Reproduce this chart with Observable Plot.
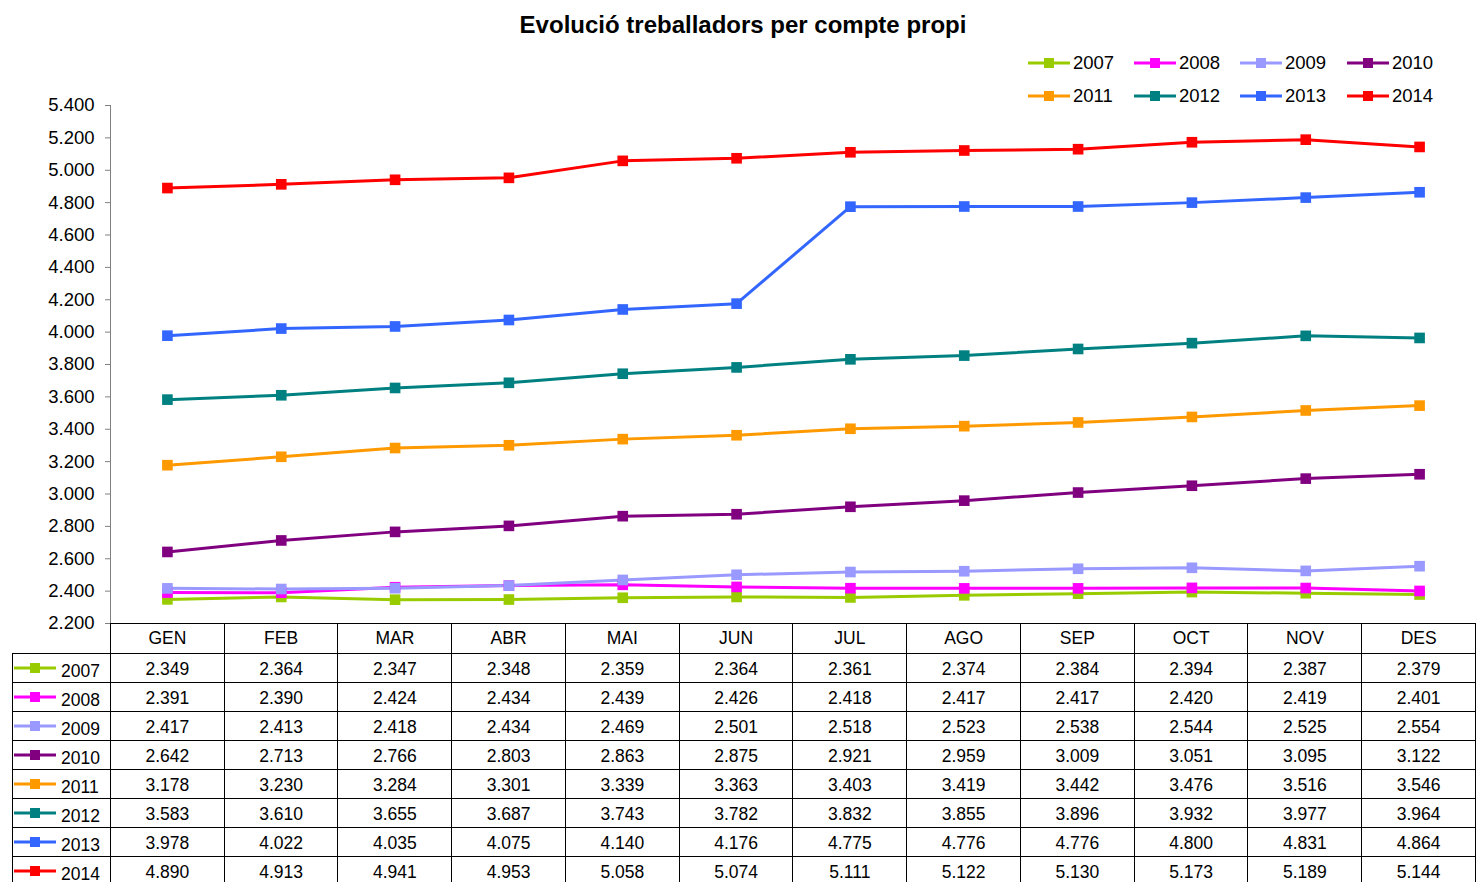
<!DOCTYPE html>
<html>
<head>
<meta charset="utf-8">
<script src="https://cdn.jsdelivr.net/npm/d3@7"></script>
<script src="https://cdn.jsdelivr.net/npm/@observablehq/plot@0.6"></script>
<style>
  html, body { margin: 0; padding: 0; background: #fff; }
  #wrap { position: relative; width: 1476px; height: 882px; overflow: hidden; font-family: "Liberation Sans", Arial, sans-serif; color: #000; background: #fff; }
  #title { position: absolute; top: 11px; left: 0; width: 1486px; text-align: center; font-weight: bold; font-size: 24px; z-index: 3; }
  #legend { position: absolute; top: 51px; left: 1027px; width: 440px; z-index: 3; }
  .li { position: absolute; font-size: 18.5px; display: flex; align-items: center; height: 24px; }
  .li svg { margin-right: 2px; }
  #chart { position: absolute; top: 0; left: 0; z-index: 1; }
  #tbl { position: absolute; top: 623px; left: 12px; border-collapse: collapse; table-layout: fixed; font-size: 17.5px; z-index: 2; }
  #tbl td { border: 1px solid #000; text-align: center; padding: 0; height: 28px; }
  #tbl td div { height: 28px; line-height: 31px; overflow: visible; }
  #tbl tr.hdr td div { height: 29px; line-height: 29px; }
  #tbl td.blank { border: none; border-right: 1px solid #000; }
  #tbl td.lab div { display: flex; align-items: center; white-space: nowrap; line-height: normal; }
  #tbl td.lab span { position: relative; top: 3px; margin-left: 4px; }
</style>
</head>
<body>
<div id="wrap">
  <div id="title">Evolució treballadors per compte propi</div>
  <div id="legend"></div>
  <div id="chart"></div>
  <table id="tbl"></table>
</div>
<script>
const months = ["GEN","FEB","MAR","ABR","MAI","JUN","JUL","AGO","SEP","OCT","NOV","DES"];
const years = ["2007","2008","2009","2010","2011","2012","2013","2014"];
const colors = ["#99CC00","#FF00FF","#9999FF","#800080","#FF9900","#008080","#3366FF","#FF0000"];
const v2007 = [2349,2364,2347,2348,2359,2364,2361,2374,2384,2394,2387,2379];
const v2008 = [2391,2390,2424,2434,2439,2426,2418,2417,2417,2420,2419,2401];
const v2009 = [2417,2413,2418,2434,2469,2501,2518,2523,2538,2544,2525,2554];
const v2010 = [2642,2713,2766,2803,2863,2875,2921,2959,3009,3051,3095,3122];
const v2011 = [3178,3230,3284,3301,3339,3363,3403,3419,3442,3476,3516,3546];
const v2012 = [3583,3610,3655,3687,3743,3782,3832,3855,3896,3932,3977,3964];
const v2013 = [3978,4022,4035,4075,4140,4176,4775,4776,4776,4800,4831,4864];
const v2014 = [4890,4913,4941,4953,5058,5074,5111,5122,5130,5173,5189,5144];
const yTicks = [2200,2400,2600,2800,3000,3200,3400,3600,3800,4000,4200,4400,4600,4800,5000,5200,5400];

const series = [v2007,v2008,v2009,v2010,v2011,v2012,v2013,v2014];
const data = [];
series.forEach((s, i) => s.forEach((v, j) => data.push({year: years[i], month: months[j], value: v})));

const fmt = d3.formatLocale({decimal: ",", thousands: ".", grouping: [3], currency: ["", ""]}).format(",.0f");

const chart = Plot.plot({
  width: 1476,
  height: 640,
  marginTop: 105,
  marginBottom: 17,
  marginLeft: 110,
  marginRight: 0,
  style: {fontFamily: "'Liberation Sans', Arial, sans-serif", fontSize: "18.5px", color: "#000", background: "transparent"},
  x: {type: "point", domain: months, padding: 0.5, round: false, axis: null},
  y: {domain: [2200, 5400], ticks: yTicks, tickFormat: fmt, label: null},
  color: {domain: years, range: colors},
  marks: [
    Plot.axisY({ticks: yTicks, tickFormat: fmt, tickSize: 5, tickPadding: 11, stroke: "#808080", color: "#000", label: null, fontSize: 18.5}),
    Plot.line(data, {x: "month", y: "value", z: "year", stroke: "year", strokeWidth: 3}),
    Plot.dot(data, {x: "month", y: "value", fill: "year", symbol: "square", r: 6})
  ]
});
// vertical axis line
d3.select(chart).append("line")
  .attr("x1", 110.5).attr("x2", 110.5).attr("y1", 105).attr("y2", 623)
  .attr("stroke", "#808080").attr("stroke-width", 1);
document.getElementById("chart").appendChild(chart);

function swatch(color) {
  return `<svg width="44" height="14" style="flex:none"><line x1="1" x2="43" y1="7" y2="7" stroke="${color}" stroke-width="3"/><rect x="17" y="2" width="10" height="10" fill="${color}"/></svg>`;
}

// legend
const legend = document.getElementById("legend");
const colX = [0, 106, 212, 319];
years.forEach((y, i) => {
  const d = document.createElement("div");
  d.className = "li";
  d.style.left = colX[i % 4] + "px";
  d.style.top = (Math.floor(i / 4) * 33) + "px";
  d.innerHTML = swatch(colors[i]) + `<span>${y}</span>`;
  legend.appendChild(d);
});

// table
const tbl = document.getElementById("tbl");
const bandW = 1366 / 12;
let html = `<colgroup><col style="width:98px">` + months.map(() => `<col style="width:${bandW}px">`).join("") + `</colgroup>`;
html += `<tr class="hdr"><td class="blank"></td>` + months.map(m => `<td><div>${m}</div></td>`).join("") + `</tr>`;
series.forEach((s, i) => {
  html += `<tr><td class="lab"><div>${swatch(colors[i])}<span>${years[i]}</span></div></td>` +
    s.map(v => `<td><div>${fmt(v)}</div></td>`).join("") + `</tr>`;
});
tbl.innerHTML = html;
</script>
</body>
</html>
